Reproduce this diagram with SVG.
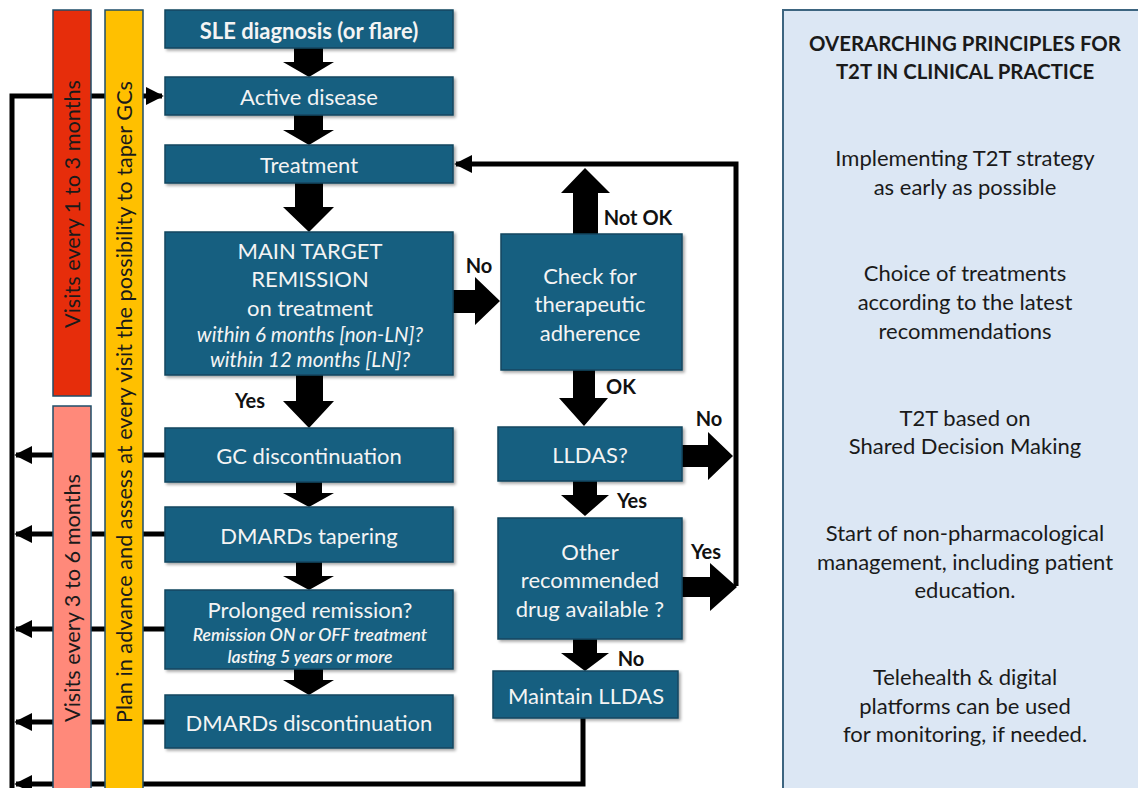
<svg xmlns="http://www.w3.org/2000/svg" width="1138" height="788" viewBox="0 0 1138 788">
<defs>
<style>
.box{fill:#185e80;stroke:#12475f;stroke-width:1.5;filter:url(#sh)}
.bt{fill:#f4f4f4;font-family:Lato,"Open Sans",sans-serif;font-size:22px;text-anchor:middle;dominant-baseline:central}
.it{font-style:italic;font-size:20.5px}
.sit{font-style:italic;font-weight:600;font-size:17.5px}
.lbl{fill:#111;font-family:Lato,"Open Sans",sans-serif;font-size:20px;font-weight:bold;dominant-baseline:central}
.ba{fill:#000}
.ln{fill:none;stroke:#000;stroke-width:5}
.bar{stroke:#1f4e69;stroke-width:1.5}
.vt{fill:#1a1a1a;font-family:Lato,"Open Sans",sans-serif;font-size:21.7px;text-anchor:middle;dominant-baseline:central}
.pt{fill:#1a1a1a;font-family:Lato,"Open Sans",sans-serif;font-size:22px;text-anchor:middle;dominant-baseline:central}
.ttl{font-size:20.4px;font-weight:bold}
</style>
<filter id="sh" x="-5%" y="-5%" width="115%" height="130%">
<feDropShadow dx="2" dy="2" stdDeviation="1.5" flood-color="#000" flood-opacity="0.35"/>
</filter>
<marker id="ah" viewBox="0 0 10 10" refX="9" refY="5" markerWidth="18" markerHeight="18" markerUnits="userSpaceOnUse" orient="auto">
<path d="M0,0 L10,5 L0,10 Z" fill="#000"/>
</marker>
</defs>
<rect width="1138" height="788" fill="#fff"/>

<g id="connectors">
<polyline class="ln" points="12,790 12,96 162,96" marker-end="url(#ah)"/>
<line class="ln" x1="165" y1="455" x2="16" y2="455" marker-end="url(#ah)"/>
<line class="ln" x1="165" y1="534" x2="16" y2="534" marker-end="url(#ah)"/>
<line class="ln" x1="165" y1="629" x2="16" y2="629" marker-end="url(#ah)"/>
<line class="ln" x1="165" y1="722" x2="16" y2="722" marker-end="url(#ah)"/>
<polyline class="ln" points="583,718 583,784 16,784" marker-end="url(#ah)"/>
<polyline class="ln" points="736,586 736,164 456,164" marker-end="url(#ah)"/>
<path class="ba" d="M294,48 L323,48 L323,62 L334,62 L309,77 L283,62 L294,62 Z"/>
<path class="ba" d="M294,115 L323,115 L323,130 L334,130 L309,145 L283,130 L294,130 Z"/>
<path class="ba" d="M295,183 L323,183 L323,207 L334,207 L309,232 L283,207 L295,207 Z"/>
<path class="ba" d="M296,375 L323,375 L323,401 L334,401 L309,428 L283,401 L296,401 Z"/>
<path class="ba" d="M296,482 L322,482 L322,493 L334,493 L309,507 L283,493 L296,493 Z"/>
<path class="ba" d="M296,562 L322,562 L322,576 L334,576 L309,590 L283,576 L296,576 Z"/>
<path class="ba" d="M294,669 L323,669 L323,680 L334,680 L309,695 L283,680 L294,680 Z"/>
<path class="ba" d="M453,290 L475,290 L475,277 L500,301 L475,325 L475,313 L453,313 Z"/>
<path class="ba" d="M573,234 L598,234 L598,193 L610,193 L585,168 L561,193 L573,193 Z"/>
<path class="ba" d="M573,370 L595,370 L595,398 L608,398 L584,426 L559,398 L573,398 Z"/>
<path class="ba" d="M682,445 L708,445 L708,432 L733,456 L708,480 L708,467 L682,467 Z"/>
<path class="ba" d="M573,481 L597,481 L597,495 L609,495 L585,516 L561,495 L573,495 Z"/>
<path class="ba" d="M682,577 L710,577 L710,563 L737,587 L710,611 L710,597 L682,597 Z"/>
<path class="ba" d="M573,639 L597,639 L597,653 L609,653 L585,671 L561,653 L573,653 Z"/>
<text class="lbl" x="479" y="265" text-anchor="middle">No</text>
<text class="lbl" x="250" y="400" text-anchor="middle">Yes</text>
<text class="lbl" x="638" y="217" text-anchor="middle">Not OK</text>
<text class="lbl" x="621" y="386" text-anchor="middle">OK</text>
<text class="lbl" x="709" y="418" text-anchor="middle">No</text>
<text class="lbl" x="632" y="500" text-anchor="middle">Yes</text>
<text class="lbl" x="706" y="551" text-anchor="middle">Yes</text>
<text class="lbl" x="631" y="658" text-anchor="middle">No</text>
</g>

<g id="bar-visits-1-3">
<rect class="bar" x="53" y="10" width="38" height="386" fill="#e62d0b"/>
<text class="vt" transform="translate(72,204) rotate(-90)">Visits every 1 to 3 months</text>
</g>
<g id="bar-visits-3-6">
<rect class="bar" x="53" y="406" width="38" height="390" fill="#ff897a"/>
<text class="vt" transform="translate(72,598) rotate(-90)">Visits every 3 to 6 months</text>
</g>
<g id="bar-plan">
<rect class="bar" x="105" y="10" width="38" height="786" fill="#ffc000"/>
<text class="vt" transform="translate(124,402) rotate(-90)">Plan in advance and assess at every visit the possibility to taper GCs</text>
</g>

<g id="n-sle">
<rect class="box" x="165" y="10" width="288" height="38"/>
<text class="bt" x="309" y="30" font-weight="bold">SLE diagnosis (or flare)</text>
</g>
<g id="n-active">
<rect class="box" x="165" y="77" width="288" height="38"/>
<text class="bt" x="309" y="96">Active disease</text>
</g>
<g id="n-treatment">
<rect class="box" x="165" y="145" width="288" height="38"/>
<text class="bt" x="309" y="164">Treatment</text>
</g>
<g id="n-main">
<rect class="box" x="165" y="232" width="288" height="143"/>
<text class="bt" x="310" y="250">MAIN TARGET</text>
<text class="bt" x="310" y="278">REMISSION</text>
<text class="bt" x="310" y="307">on treatment</text>
<text class="bt it" x="310" y="334">within 6 months [non-LN]?</text>
<text class="bt it" x="310" y="359">within 12 months [LN]?</text>
</g>
<g id="n-gc">
<rect class="box" x="165" y="428" width="288" height="54"/>
<text class="bt" x="309" y="455">GC discontinuation</text>
</g>
<g id="n-taper">
<rect class="box" x="165" y="507" width="288" height="55"/>
<text class="bt" x="309" y="535">DMARDs tapering</text>
</g>
<g id="n-prolonged">
<rect class="box" x="165" y="590" width="288" height="79"/>
<text class="bt" x="310" y="609">Prolonged remission?</text>
<text class="bt sit" x="310" y="634">Remission ON or OFF treatment</text>
<text class="bt sit" x="310" y="656">lasting 5 years or more</text>
</g>
<g id="n-disc">
<rect class="box" x="165" y="695" width="288" height="53"/>
<text class="bt" x="309" y="722">DMARDs discontinuation</text>
</g>
<g id="n-check">
<rect class="box" x="501" y="234" width="181" height="136"/>
<text class="bt" x="590" y="275">Check for</text>
<text class="bt" x="590" y="303">therapeutic</text>
<text class="bt" x="590" y="332">adherence</text>
</g>
<g id="n-lldas">
<rect class="box" x="498" y="427" width="184" height="54"/>
<text class="bt" x="590" y="454">LLDAS?</text>
</g>
<g id="n-other">
<rect class="box" x="498" y="518" width="184" height="121"/>
<text class="bt" x="590" y="551">Other</text>
<text class="bt" x="590" y="579">recommended</text>
<text class="bt" x="590" y="608">drug available ?</text>
</g>
<g id="n-maintain">
<rect class="box" x="493" y="671" width="185" height="47"/>
<text class="bt" x="586" y="695">Maintain LLDAS</text>
</g>

<g id="n-principles">
<rect x="783" y="10" width="370" height="790" fill="#dce7f4" stroke="#3d6580" stroke-width="2"/>
<text class="pt ttl" x="965" y="43">OVERARCHING PRINCIPLES FOR</text>
<text class="pt ttl" x="965" y="71">T2T IN CLINICAL PRACTICE</text>
<text class="pt" x="965" y="157">Implementing T2T strategy</text>
<text class="pt" x="965" y="186">as early as possible</text>
<text class="pt" x="965" y="272">Choice of treatments</text>
<text class="pt" x="965" y="301">according to the latest</text>
<text class="pt" x="965" y="330">recommendations</text>
<text class="pt" x="965" y="417">T2T based on</text>
<text class="pt" x="965" y="445">Shared Decision Making</text>
<text class="pt" x="965" y="532">Start of non-pharmacological</text>
<text class="pt" x="965" y="561">management, including patient</text>
<text class="pt" x="965" y="589">education.</text>
<text class="pt" x="965" y="676">Telehealth &amp; digital</text>
<text class="pt" x="965" y="705">platforms can be used</text>
<text class="pt" x="965" y="733">for monitoring, if needed.</text>
</g>
</svg>
